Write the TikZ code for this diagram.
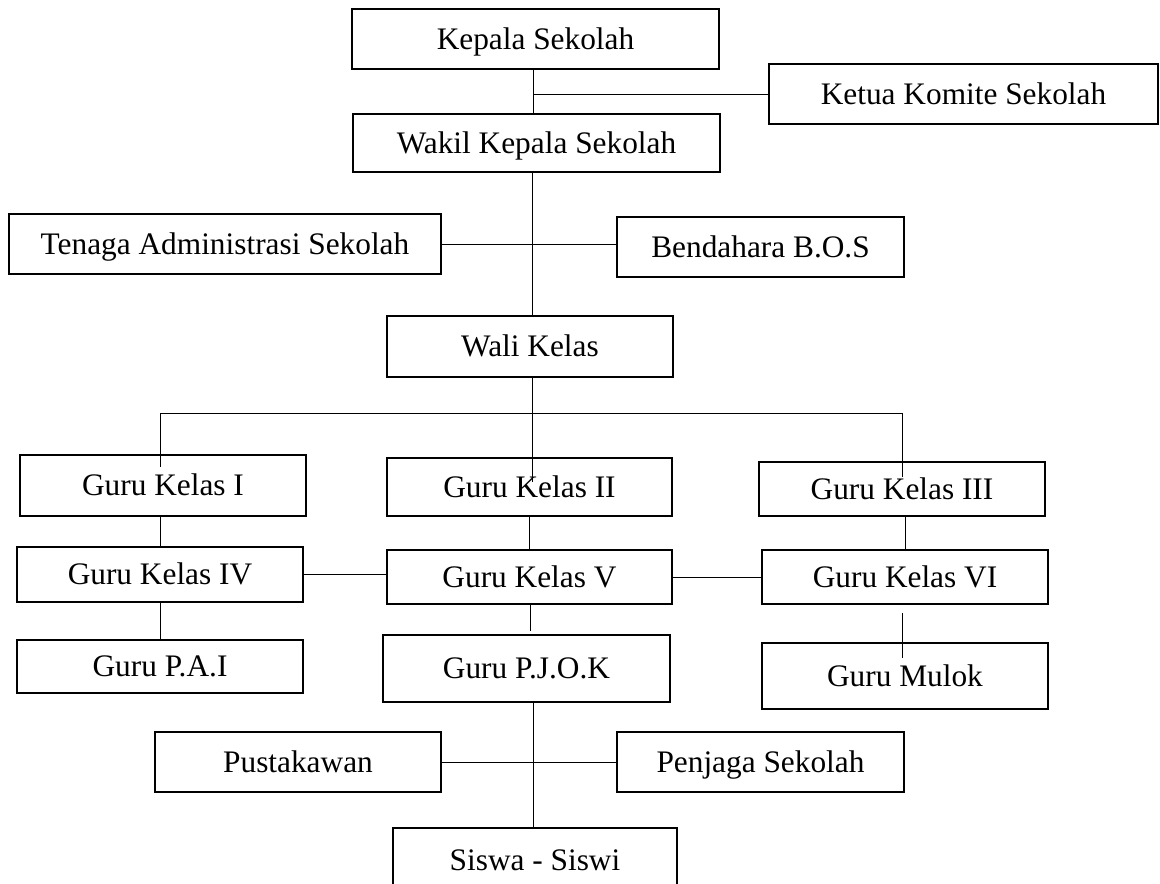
\documentclass[tikz,border=0pt]{standalone}
\usepackage{fontspec}
\setmainfont{Liberation Serif}

\begin{document}
\begin{tikzpicture}[x=0.75pt,y=-0.75pt,font=\fontsize{23.5}{28}\selectfont,
    bx/.style 2 args={minimum width=#1*0.75pt,minimum height=#2*0.75pt}]
       \tikzstyle{box}=[draw,line width=0.9pt,inner sep=0pt,text height=19pt,text depth=4pt]
       \tikzstyle{link}=[line width=0.6pt]

       \clip (0,0) rectangle (1160,883);

       % pimpinan
       \node[box,bx={367}{60}] (kepala) at (535.5,39) {Kepala Sekolah};
       \node[box,bx={389}{60}] (ketua) at (963.5,94) {Ketua Komite Sekolah};
       \node[box,bx={367}{58}] (wakil) at (536.5,143) {Wakil Kepala Sekolah};
       \node[box,bx={432}{60}] (tenaga) at (225,244) {Tenaga Administrasi Sekolah};
       \node[box,bx={287}{60}] (bendahara) at (760.5,247) {Bendahara B.O.S};
       \node[box,bx={286}{61}] (wali) at (530,346.5) {Wali Kelas};

       % guru kelas
       \node[box,bx={286}{61}] (gk1) at (163,485.5) {Guru Kelas I};
       \node[box,bx={285}{58}] (gk2) at (529.5,487) {Guru Kelas II};
       \node[box,bx={286}{54}] (gk3) at (902,489) {Guru Kelas III};
       \node[box,bx={286}{55}] (gk4) at (160,574.5) {Guru Kelas IV};
       \node[box,bx={285}{54}] (gk5) at (529.5,577) {Guru Kelas V};
       \node[box,bx={286}{54}] (gk6) at (905,577) {Guru Kelas VI};
       \node[box,bx={286}{53}] (pai) at (160,666.5) {Guru P.A.I};
       \node[box,bx={287}{67}] (pjok) at (526.5,668.5) {Guru P.J.O.K};
       \node[box,bx={286}{66}] (mulok) at (905,676) {Guru Mulok};

       % staf & siswa
       \node[box,bx={286}{60}] (pustaka) at (298,762) {Pustakawan};
       \node[box,bx={287}{60}] (penjaga) at (760.5,762) {Penjaga Sekolah};
       \node[box,bx={284}{64}] (siswa) at (535,860) {Siswa - Siswi};

       \coordinate (k_top) at (533,69);
       \coordinate (bus_l) at (160,413);
       \coordinate (bus_m) at (532,413);
       \coordinate (bus_r) at (902,413);
       \coordinate (gk1_in) at (160,467);
       \coordinate (gk2_in) at (532,482);
       \coordinate (gk3_in) at (902,477);
       \coordinate (pjok_up) at (530,631);
       \coordinate (mulok_a) at (902,613);
       \coordinate (mulok_b) at (902,658);
       \coordinate (pjok_dn) at (533,702);

       \draw[link] (k_top) -- (k_top |- wakil.north)
              (ketua.west) -- (ketua.west -| k_top)
              (bus_m |- wakil.south) -- (bus_m |- wali.north)
              (tenaga.east) -- (tenaga.east -| bendahara.west)
              (bus_m |- wali.south) -- (gk2_in)
              (bus_l) -- (bus_r)
              (bus_l) -- (gk1_in)
              (bus_r) -- (gk3_in);

       \draw[link] (gk1.south -| gk4) -- (gk4.north)
              (gk2.south) -- (gk5.north)
              (gk3.south -| gk6) -- (gk6.north)
              (gk4.east) -- (gk5.west |- gk4.east)
              (gk5.east) -- (gk6.west |- gk5.east)
              (gk4.south) -- (pai.north)
              (pjok_up |- gk5.south) -- (pjok_up)
              (mulok_a) -- (mulok_b)
              (pjok_dn) -- (pjok_dn |- siswa.north)
              (pustaka.east) -- (penjaga.west);
     \end{tikzpicture}
\end{document}
